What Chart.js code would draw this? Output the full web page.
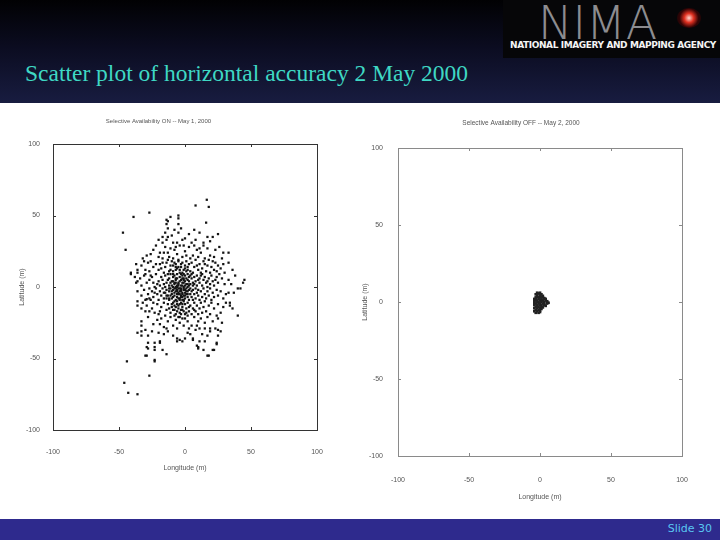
<!DOCTYPE html>
<html>
<head>
<meta charset="utf-8">
<script src="https://cdn.jsdelivr.net/npm/chart.js@4.4.1/dist/chart.umd.min.js"></script>
<style>
body { margin: 0; width: 720px; height: 540px; overflow: hidden; background: #fff; position: relative; font-family: "Liberation Sans", Arial, sans-serif; }
#header { position: absolute; left: 0; top: 0; width: 720px; height: 103px; background: linear-gradient(to bottom, #010103 0%, #0b0c20 45%, #181c40 100%); }
#title { position: absolute; left: 25px; top: 60px; font-family: "Liberation Serif", "Times New Roman", serif; font-size: 23.5px; color: #3fd8c4; white-space: nowrap; }
#logo { position: absolute; left: 503px; top: 0; width: 217px; height: 58px; background: #060608; overflow: hidden; }
#logo .big { position: absolute; left: 35px; top: -4px; font-family: "DejaVu Sans"; font-weight: 200; font-size: 46px; letter-spacing: 0px; color: #8c8c90; }
#logo .glow { position: absolute; left: 174px; top: 8px; width: 24px; height: 20px; border-radius: 50%; background: radial-gradient(circle, #ffd8d0 0%, #e03020 30%, rgba(120,0,0,0.4) 60%, rgba(0,0,0,0) 100%); }
#logo .cap { position: absolute; left: 7px; top: 40px; font-family: "DejaVu Sans"; font-weight: bold; font-size: 9px; letter-spacing: -0.4px; color: #f4f4f4; white-space: nowrap; }
#footer { position: absolute; left: 0; top: 519px; width: 720px; height: 21px; background: #2e2a8d; }
#slide { position: absolute; right: 8px; top: 3px; font-family: "DejaVu Sans"; font-size: 11px; color: #59c6f2; }
.box { position: absolute; }
</style>
</head>
<body>
<div id="header">
    <div id="title">Scatter plot of horizontal accuracy 2 May 2000</div>
</div>
<div id="logo">
    <div class="big">NIMA</div>
    <div class="glow"></div>
    <div class="cap">NATIONAL IMAGERY AND MAPPING AGENCY</div>
</div>
<div class="box" style="left:0px; top:110px; width:340px; height:375px;"><canvas id="chartOn"></canvas></div>
<div class="box" style="left:360px; top:110px; width:360px; height:410px;"><canvas id="chartOff"></canvas></div>
<div id="footer"><div id="slide">Slide 30</div></div>
<script>
const axisTicks = [-100, -50, 0, 50, 100];
const chartTitles = ["Selective Availability ON -- May 1, 2000", "Selective Availability OFF -- May 2, 2000"];
const xTitle = "Longitude (m)";
const yTitle = "Latitude (m)";

// SA on, May 1 -- [longitude, latitude] in metres
const saOnOuter = [
    [-39,49],[-27,52],[-47,38],[-45,26],[8,57],[16.5,61],[18,56],[16,45],[-11,49],[-14,47],[-5,50],[-5,48],
    [-13,46],[-14,44],[-5,44],[25,37],[45,5],[44,3],[42,-1],[37,-4],[40,-20],[36,-15],[34,-13],
    [-44,-52],[-23,-52],[-27,-62],[-46,-67],[-43,-74],[-36,-75],[-29,-48],[-23,-51],[-14,-47],[-30,-48],
    [17,-48],[18,-48],[21,-44],[22,-44],[24,-40]
];
const saOnUpper = [
    [-13,41],[-8,40],[-5,38],[-15,38],[-17,35],[-13,35],[-14,33],[-17,31],[-9,31],[-6,31],[-2,33],[17,35],
    [21,35],[14,31],[5,31],[0,34],[3,37],[8,33],[-10,36],[11,38],[-3,41],[19,32],[-20,33],[7,40],
    [-15,28],[-11,27],[-8,26],[-4,29],[-19,24],[-16,24],[-13,24],[-20,21],[-29,22],[-32,20],[-9,20],[-2,21],
    [17,27],[23,26],[29,24],[33,24],[28,20],[-24,26],[-6,23],[0,25],[3,28],[6,22],[9,26],[12,24],[14,29],
    [19,22],[22,21],[-1,29],[-12,21],[-26,23],[4,20],[10,21],[15,20],[-7,28],[1,22],[-17,20],[26,28],[7,29],
    [-22,29],[11,27],
    [-28,17],[-33,15],[-36,12],[-30,12],[-24,14],[-20,12],[-17,17],[-13,19],[-5,19],[33,17],[23,17],[25,15],
    [30,10],[36,12],[19,10],[-41,10],[-36,10],[-26,18],[-22,16],[-15,14],[-11,15],[-8,17],[-6,13],[-3,16],
    [-1,12],[1,18],[2,14],[4,11],[5,17],[7,14],[8,19],[10,12],[11,16],[13,13],[14,18],[16,11],[17,15],[20,14],
    [21,18],[27,13],[-9,11],[-12,11],[-18,13],[-2,10],[3,16],[6,10],[-7,16],[-4,12],[12,10],[-14,17],[9,15],
    [0,15],[-27,11],[15,16],[29,16],[-10,18],[-5,14],[18,19],[22,12],[-31,18],[24,11],[-19,16],[-16,10],[1,11],[-37,16]
];
const saOnMiddle = [
    [-41,9],[-37,3],[-38,7],[-36,4],[-29,3],[-25,7],[33,5],[24,7],[25,3],[17,0],[-23,0],[-34,6],[-31,8],
    [-27,5],[-22,9],[-20,4],[-18,7],[-16,2],[-15,8],[-13,5],[-12,1],[-11,9],[-10,4],[-9,7],[-8,2],[-7,5],
    [-6,9],[-6,0],[-5,3],[-4,7],[-3,1],[-3,5],[-2,8],[-2,3],[-1,6],[-1,0],[0,4],[0,8],[1,2],[1,6],[2,9],[2,0],
    [3,4],[3,7],[4,2],[5,6],[5,9],[6,3],[6,1],[7,7],[8,4],[9,8],[9,1],[10,5],[11,3],[12,8],[13,1],[14,5],
    [15,7],[16,3],[18,6],[19,2],[20,8],[21,4],[22,1],[26,9],[28,6],[30,2],[-4,4],[-8,8],[-14,3],[-19,1],
    [-24,3],[-30,9],[-33,1],[4,8],[-1,3],[2,5],[-5,1],[-7,3],[-3,9],[7,2],[-10,1],[-12,6],[-17,5],[38,8],
    [35,2],[-26,8],[-21,2],[-2,6],[0,1],[3,1],[-6,6],[-9,4],[11,6],[13,9],[17,4],[23,5],
    [40,-1],[33,-4],[-27,-1],[-36,-10],[-30,-9],[-27,-8],[-29,-8.5],[-36,-3],[-33,-6],[-31,-2],[-28,-5],
    [-25,-3],[-24,-7],[-22,-1],[-21,-5],[-20,-9],[-19,-3],[-18,-6],[-17,-1],[-16,-8],[-15,-4],[-14,-2],
    [-13,-6],[-12,-9],[-12,-3],[-11,-1],[-10,-5],[-10,-8],[-9,-2],[-8,-6],[-8,-4],[-7,-1],[-7,-9],[-6,-3],
    [-6,-7],[-5,-5],[-5,-1],[-4,-8],[-4,-3],[-3,-6],[-3,-1],[-2,-4],[-2,-9],[-1,-2],[-1,-6],[0,-4],[0,-8],
    [1,-1],[1,-5],[2,-3],[2,-7],[3,-9],[3,-2],[4,-5],[4,-1],[5,-7],[5,-3],[6,-9],[6,-2],[7,-5],[8,-1],[8,-8],
    [9,-4],[10,-6],[10,-2],[11,-9],[12,-3],[13,-7],[14,-1],[15,-5],[16,-8],[17,-3],[18,-6],[19,-1],[20,-9],
    [21,-4],[22,-7],[24,-2],[25,-6],[27,-3],[29,-8],[31,-5],[34,-11],[-3,-3],[-6,-5],[-2,-7],[0,-2],[-9,-7],
    [-4,-5],[-1,-9],[2,-5],[-7,-3],[-5,-8],[-11,-6],[-14,-8],[-16,-4],[-23,-4],[-26,-9]
];
const saOnLower = [
    [-36,-13],[-29,-13],[-25,-15],[-33,-15],[-23,-18],[-19,-17],[-15,-20],[24,-20],[-32,-11],[-27,-17],
    [-21,-12],[-18,-14],[-16,-11],[-14,-16],[-13,-12],[-11,-18],[-10,-14],[-9,-11],[-8,-16],[-7,-19],[-6,-12],
    [-5,-15],[-4,-18],[-3,-11],[-2,-14],[-1,-17],[0,-12],[0,-19],[1,-15],[2,-11],[3,-17],[4,-13],[5,-19],
    [6,-15],[7,-11],[8,-17],[9,-13],[10,-19],[11,-15],[12,-11],[13,-18],[14,-14],[15,-10],[16,-17],[18,-13],
    [19,-19],[20,-11],[22,-15],[25,-12],[27,-18],[29,-14],[31,-11],[-20,-19],[-12,-15],[-6,-17],[-2,-12],
    [3,-14],[7,-16],[-8,-13],[-3,-16],[1,-18],[-24,-11],[-30,-17],
    [-33,-24],[-33,-27],[-13,-24],[-9,-27],[-4,-25],[-2,-22],[-21,-23],[2,-24],[5,-27],[10,-24],[15,-25],
    [8,-30],[11,-29],[15,-29],[19,-29],[23,-29],[21,-24],[28,-25],[-30,-30],[-25,-31],[-28,-21],[-24,-26],
    [-18,-22],[-16,-28],[-11,-21],[-7,-23],[-6,-29],[-1,-27],[0,-22],[3,-29],[7,-21],[12,-22],[17,-21],
    [-19,-26],[-14,-29],[25,-22],[-4,-21],[9,-27],
    [-20,-32],[-28,-34],[-13,-31],[-9,-34],[-6,-36],[-4,-37],[0,-36],[-28,-39],[-23,-39],[-19,-38],[-6,-38],
    [-2,-38],[10,-42],[6,-36],[-33,-34],[-33,-31],[-36,-32],[2,-32],[6,-37],[11,-38],[15,-38],[17,-34],
    [19,-31],[24,-39],[25,-30],[27,-31],[25,-34],[-16,-33],[4,-33],[13,-33],
    [-28,-43],[-23,-44],[-17,-44],[-29,-42],[-23,-42],[-19,-39],[9,-41],[10,-43],[14,-44]
];
const saOnCore = [
    [-7,0],[-4,-1],[-2,1],[-5,2],[-8,-1],[-3,-2],[-1,-1],[-6,1],[-9,0],[-2,-5],[-5,-4],[-8,3],[-4,10],[-7,12],
    [-3,14],[-1,9],[-6,-10],[-4,-12],[-8,-10],[-1,-10],[-10,-3],[-11,3],[-9,9],[-12,-1],[-3,-7],[-6,-2],[-7,6],
    [0,-6],[1,-3],[2,2],[-1,5],[-4,-9],[-7,-14],[-5,-13],[-2,-16],[-9,-16],[-3,-19],[-5,-21],[2,-20],[-8,-20],
    [-10,-12],[-12,-8],[-14,-6],[-15,0],[-13,9],[-11,12],[-7,14],[-2,17],[-5,18],[0,13],[2,12],[-9,15]
];

// SA off, May 2
const saOffPoints = [
    [-2,6],[-1,5.5],[0,6],[-3,5],[1,5],[-2,4.5],[0,4.5],[2,4],
    [-3,3],[-2,3.5],[-1,3],[0,3],[1,3.5],[2,3],[3,2.5],[-4,2],[-3,2],[-1,2],[1,2],[3,2],[4,2],
    [-4,1],[-3,1],[-2,1],[0,1],[1,1],[2,1],[4,1],[5,0.5],[-4,0],[-2,0],[-1,0],[1,0],[3,0],[5,0],[6,-0.5],
    [-4,-1],[-3,-1],[-1,-1],[0,-1],[2,-1],[3,-1.5],[5,-1],[-4,-2],[-2,-2],[0,-2],[1,-2],[3,-2],[4,-2.5],
    [-3,-3],[-2,-3],[-1,-3],[1,-3],[2,-3.5],[-4,-4],[-2,-4],[0,-4],[1,-4.5],
    [-3,-5],[-1,-5],[0,-5.5],[-4,-6],[-2,-6],[0,-6.5],[-3,-7],[-1,-7]
];

Chart.defaults.font.family = "'Liberation Sans', Arial, sans-serif";
Chart.defaults.animation = false;

const toXY = (pts) => pts.map(p => ({ x: p[0], y: p[1] }));

// box round the plot with small inward tick marks on all four sides
const framePlugin = {
    id: "frame",
    afterDatasetsDraw(chart, args, opts) {
        const { ctx, chartArea: a, scales } = chart;
        ctx.save();
        ctx.strokeStyle = opts.color;
        ctx.lineWidth = 1;
        ctx.strokeRect(a.left + 0.5, a.top + 0.5, a.width, a.height);
        ctx.beginPath();
        axisTicks.forEach(v => {
            const x = Math.round(scales.x.getPixelForValue(v)) + 0.5;
            const y = Math.round(scales.y.getPixelForValue(v)) + 0.5;
            ctx.moveTo(x, a.bottom); ctx.lineTo(x, a.bottom - 3);
            ctx.moveTo(x, a.top); ctx.lineTo(x, a.top + 3);
            ctx.moveTo(a.left, y); ctx.lineTo(a.left + 3, y);
            ctx.moveTo(a.right, y); ctx.lineTo(a.right - 3, y);
        });
        ctx.stroke();
        ctx.restore();
    }
};

const makeChart = (id, datasets, s) => {
    return new Chart(document.querySelector(id), {
        type: "scatter",
        data: { datasets: datasets },
        options: {
            responsive: true,
            maintainAspectRatio: false,
            layout: { padding: { left: 0, top: 0, bottom: 0, right: s.padRight } },
            scales: {
                x: {
                    type: "linear",
                    min: -100,
                    max: 100,
                    afterBuildTicks: (sc) => { sc.ticks = axisTicks.map(v => ({ value: v })); },
                    afterFit: (sc) => { sc.height = s.xHeight; },
                    ticks: { font: { size: 7 }, color: "#555", padding: s.xTickPad, maxRotation: 0 },
                    grid: { display: false },
                    border: { display: false },
                    title: { display: true, text: xTitle, font: { size: 7 }, color: "#555", padding: { top: 0, bottom: s.xTitlePad } }
                },
                y: {
                    type: "linear",
                    min: -100,
                    max: 100,
                    afterBuildTicks: (sc) => { sc.ticks = axisTicks.map(v => ({ value: v })); },
                    afterFit: (sc) => { sc.width = s.yWidth; },
                    ticks: { font: { size: 7 }, color: "#555", padding: s.yTickPad },
                    grid: { display: false },
                    border: { display: false },
                    title: { display: true, text: yTitle, font: { size: 7 }, color: "#555", padding: { top: s.yTitlePad, bottom: 0 } }
                }
            },
            plugins: {
                legend: { display: false },
                tooltip: { enabled: false },
                title: {
                    display: true,
                    text: s.title,
                    font: { size: s.titleSize, weight: "normal" },
                    color: "#555",
                    padding: { top: s.titleTop, bottom: s.titleBottom }
                },
                frame: { color: s.frameColor }
            }
        },
        plugins: [framePlugin]
    });
};

const dotStyle = {
    pointStyle: "rect",
    pointRadius: 1.6,
    pointBorderWidth: 0,
    backgroundColor: "#141414",
    borderColor: "#141414"
};

makeChart("#chartOn", [
    Object.assign({ data: toXY(saOnOuter.concat(saOnUpper, saOnMiddle, saOnLower, saOnCore)) }, dotStyle)
], {
    title: chartTitles[0], titleSize: 6, titleTop: 8, titleBottom: 18.8,
    padRight: 23, xHeight: 55, xTickPad: 10, xTitlePad: 12.8,
    yWidth: 53, yTickPad: 5, yTitlePad: 17.8, frameColor: "#333"
});

makeChart("#chartOff", [
    Object.assign({ data: toXY(saOffPoints) }, dotStyle, { backgroundColor: "#222", pointRadius: 1.9 })
], {
    title: chartTitles[1], titleSize: 6.5, titleTop: 9, titleBottom: 21.2,
    padRight: 38, xHeight: 64, xTickPad: 12, xTitlePad: 18.8,
    yWidth: 38, yTickPad: 7, yTitlePad: 0.8, frameColor: "#8a8a8a"
});
</script>
</body>
</html>
